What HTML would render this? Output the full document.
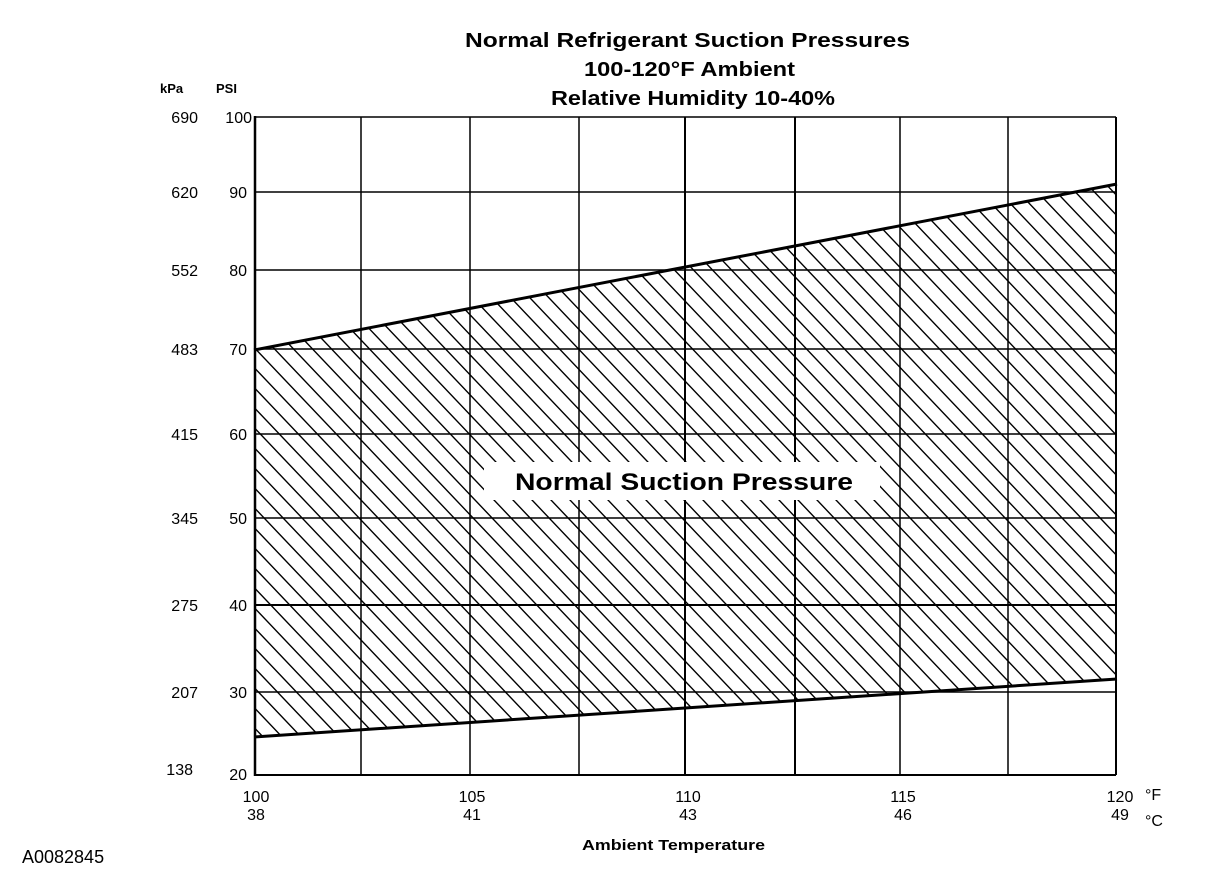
<!DOCTYPE html>
<html><head><style>
body{margin:0;background:#fff;}
svg text{font-family:"Liberation Sans",Arial,sans-serif;fill:#000;}
</style></head><body>
<svg width="1216" height="878" viewBox="0 0 1216 878" xmlns="http://www.w3.org/2000/svg">
<defs>
<pattern id="h" patternUnits="userSpaceOnUse" width="19" height="20">
<path d="M-2,-2.1 L21,22.1 M-21,-2.1 L2,22.1 M17,-2.1 L40,22.1" stroke="#000" stroke-width="1.4"/>
</pattern>
</defs>
<text x="465" y="47" font-size="20" font-weight="bold" textLength="445" lengthAdjust="spacingAndGlyphs">Normal  Refrigerant  Suction  Pressures</text>
<text x="584" y="76" font-size="20" font-weight="bold" textLength="211" lengthAdjust="spacingAndGlyphs">100-120°F Ambient</text>
<text x="551" y="105" font-size="20" font-weight="bold" textLength="284" lengthAdjust="spacingAndGlyphs">Relative Humidity 10-40%</text>
<text x="160" y="93" font-size="13" font-weight="bold">kPa</text>
<text x="216" y="93" font-size="13" font-weight="bold">PSI</text>
<polygon points="255,350 1116,184 1116,679 255,737" fill="url(#h)"/>
<g stroke="#000" stroke-width="1.5">
<line x1="255" y1="117" x2="1116" y2="117"/>
<line x1="255" y1="192" x2="1116" y2="192"/>
<line x1="255" y1="270" x2="1116" y2="270"/>
<line x1="255" y1="349" x2="1116" y2="349"/>
<line x1="255" y1="434" x2="1116" y2="434"/>
<line x1="255" y1="518" x2="1116" y2="518"/>
<line x1="255" y1="605" x2="1116" y2="605" stroke-width="2"/>
<line x1="255" y1="692" x2="1116" y2="692"/>
<line x1="255" y1="775" x2="1116" y2="775" stroke-width="2"/>
<line x1="255" y1="116" x2="255" y2="776" stroke-width="2.5"/>
<line x1="361" y1="117" x2="361" y2="775"/>
<line x1="470" y1="117" x2="470" y2="775"/>
<line x1="579" y1="117" x2="579" y2="775"/>
<line x1="685" y1="117" x2="685" y2="775" stroke-width="2"/>
<line x1="795" y1="117" x2="795" y2="775" stroke-width="2"/>
<line x1="900" y1="117" x2="900" y2="775"/>
<line x1="1008" y1="117" x2="1008" y2="775"/>
<line x1="1116" y1="117" x2="1116" y2="775" stroke-width="2"/>
</g>
<g stroke="#000" stroke-width="3">
<line x1="254" y1="350" x2="1117" y2="184"/>
<line x1="254" y1="737" x2="1117" y2="679"/>
</g>
<rect x="484" y="462" width="396" height="38" fill="#fff"/>
<text x="515" y="490" font-size="24" font-weight="bold" textLength="338" lengthAdjust="spacingAndGlyphs">Normal Suction Pressure</text>
<g font-size="16" text-anchor="end">
<text x="252" y="123">100</text><text x="198" y="123">690</text>
<text x="247" y="198">90</text><text x="198" y="198">620</text>
<text x="247" y="276">80</text><text x="198" y="276">552</text>
<text x="247" y="355">70</text><text x="198" y="355">483</text>
<text x="247" y="440">60</text><text x="198" y="440">415</text>
<text x="247" y="524">50</text><text x="198" y="524">345</text>
<text x="247" y="611">40</text><text x="198" y="611">275</text>
<text x="247" y="698">30</text><text x="198" y="698">207</text>
<text x="247" y="780">20</text><text x="193" y="775">138</text>
</g>
<g font-size="16" text-anchor="middle">
<text x="256" y="802">100</text><text x="256" y="820">38</text>
<text x="472" y="802">105</text><text x="472" y="820">41</text>
<text x="688" y="802">110</text><text x="688" y="820">43</text>
<text x="903" y="802">115</text><text x="903" y="820">46</text>
<text x="1120" y="802">120</text><text x="1120" y="820">49</text>
</g>
<text x="1145" y="800" font-size="16">°F</text>
<text x="1145" y="826" font-size="16">°C</text>
<text x="582" y="850" font-size="15" font-weight="bold" textLength="183" lengthAdjust="spacingAndGlyphs">Ambient Temperature</text>
<text x="22" y="863" font-size="18">A0082845</text>
</svg>
</body></html>
